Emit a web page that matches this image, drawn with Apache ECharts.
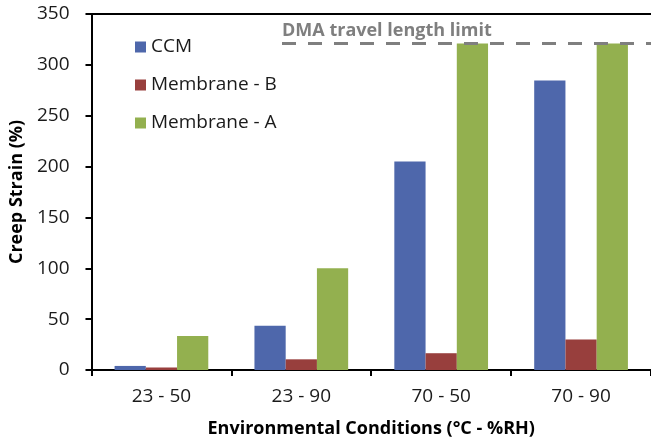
<!DOCTYPE html>
<html>
<head>
<meta charset="utf-8">
<script src="https://cdn.jsdelivr.net/npm/echarts@6/dist/echarts.min.js"></script>
<style>
  html, body { margin: 0; padding: 0; background: #fff; }
  #chart { width: 651px; height: 443px; }
</style>
</head>
<body>
<div id="chart"></div>
<script>
// Creep strain by environmental condition (temperature - relative humidity)
const conditions = ['23 - 50', '23 - 90', '70 - 50', '70 - 90'];
const ccm = [4, 43.5, 205, 284.5];
const membraneB = [2.5, 10.5, 16.5, 30];
const membraneA = [33.5, 100, 321, 321];
const travelLimit = 321;          // DMA travel length limit (%)
const yTicks = { min: 0, max: 350, step: 50 };

const FONT = '"Open Sans", "DejaVu Sans", sans-serif';
const TEXT = '#1a1a1a';

const chart = echarts.init(document.getElementById('chart'), null, { renderer: 'canvas' });

const barSeries = (name, data, color, extra) => Object.assign({
  name, type: 'bar', data,
  barGap: '0%', barCategoryGap: '33%',
  itemStyle: { color },
  emphasis: { disabled: true },
  animation: false
}, extra || {});

chart.setOption({
  backgroundColor: '#fff',
  textStyle: { fontFamily: FONT },
  grid: { left: 87, right: 0, top: 14, bottom: 73, containLabel: false },
  legend: {
    left: 135, top: 35, orient: 'vertical', padding: 0,
    icon: 'rect', itemWidth: 11, itemHeight: 11, itemGap: 14,
    textStyle: { fontFamily: FONT, fontSize: 19, color: TEXT, lineHeight: 24 },
    data: ['CCM', 'Membrane - B', 'Membrane - A']
  },
  xAxis: [{
    type: 'category', data: conditions, position: 'bottom',
    axisLine: { lineStyle: { color: '#000', width: 2 } },
    axisTick: { show: true, length: 6, inside: false, lineStyle: { color: '#000', width: 2 } },
    axisLabel: { fontFamily: FONT, fontSize: 19, color: TEXT, margin: 17 },
    name: 'Environmental Conditions (°C - %RH)',
    nameLocation: 'middle', nameGap: 50,
    nameTextStyle: { fontFamily: FONT, fontSize: 18, fontWeight: 'bold', color: '#000' }
  }, {
    type: 'category', data: conditions, position: 'top',
    axisLine: { lineStyle: { color: '#000', width: 2 } },
    axisTick: { show: false }, axisLabel: { show: false }
  }],
  yAxis: {
    type: 'value', min: yTicks.min, max: yTicks.max, interval: yTicks.step,
    axisLine: { show: true, lineStyle: { color: '#000', width: 2 } },
    axisTick: { show: true, length: 6, lineStyle: { color: '#000', width: 2 } },
    splitLine: { show: false },
    axisLabel: { fontFamily: FONT, fontSize: 19, color: TEXT, margin: 22 },
    name: 'Creep Strain (%)',
    nameLocation: 'middle', nameGap: 53,
    nameTextStyle: { fontFamily: FONT, fontSize: 18, fontWeight: 'bold', color: '#000' }
  },
  series: [
    barSeries('CCM', ccm, '#4e67ab'),
    barSeries('Membrane - B', membraneB, '#983f3d'),
    barSeries('Membrane - A', membraneA, '#93b04f', {
      markLine: {
        silent: true, animation: false,
        symbol: ['none', 'none'],
        lineStyle: { color: '#7f7f7f', width: 3, type: [14, 12] },
        label: {
          show: true, position: 'insideStartTop', distance: [0, 4],
          formatter: 'DMA travel length limit',
          fontFamily: FONT, fontSize: 18, fontWeight: 'bold', color: '#7f7f7f'
        },
        data: [[{ x: 282, yAxis: travelLimit }, { x: '100%', yAxis: travelLimit }]]
      }
    })
  ]
});
</script>
</body>
</html>
